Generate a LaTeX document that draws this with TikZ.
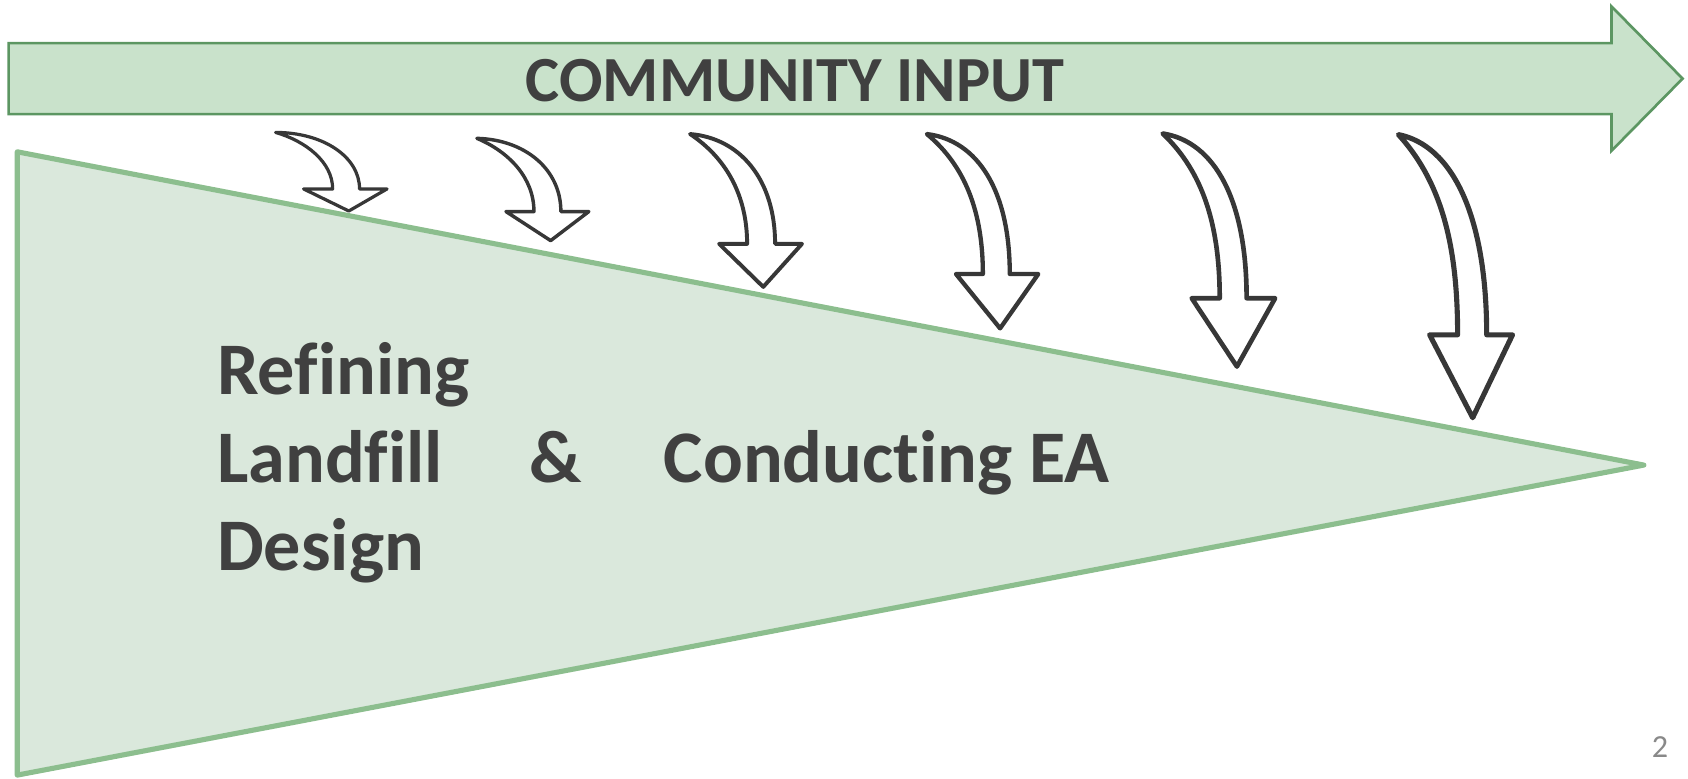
\documentclass[tikz,border=0pt]{standalone}
\usepackage{fontspec}
\setmainfont{Carlito}[Ligatures=NoCommon]
\definecolor{bandfill}{RGB}{201,226,203}
\definecolor{banddraw}{RGB}{92,150,98}
\definecolor{trifill}{RGB}{218,232,220}
\definecolor{tridraw}{RGB}{140,190,142}
\definecolor{txt}{RGB}{64,64,64}
\definecolor{pagenum}{RGB}{137,137,137}
\definecolor{arrowline}{RGB}{55,55,55}
\tikzset{
  carrow/.style={draw=arrowline, fill=white, line join=round, line cap=round},
  bigtext/.style={inner sep=0pt, text=txt, font=\fontsize{19.6}{23}\selectfont\bfseries},
  bandtext/.style={inner sep=0pt, text=txt, font=\fontsize{17}{20}\selectfont\bfseries}
}
\newcommand\carr[9]{%
  \pgfmathsetmacro\ff{(#5-#2-52.5)/133.5}%
  \pgfmathsetmacro\iax{#1+28+13*\ff}\pgfmathsetmacro\iay{#2+8+37*\ff}%
  \pgfmathsetmacro\iby{#5-25-56*\ff}%
  \pgfmathsetmacro\oax{#1+44+6*\ff}\pgfmathsetmacro\oay{#2+10*\ff}%
  \pgfmathsetmacro\oby{#5-30-81*\ff}%
  \pgfmathsetmacro\lw{0.85+0.5*\ff}%
  \draw[carrow, line width=\lw pt] (#1,#2) .. controls (\oax,\oay) and (#4,\oby) .. (#4,#5)
     -- (#7,#5) -- (#8,#9) -- (#6,#5) -- (#3,#5)
     .. controls (#3,\iby) and (\iax,\iay) .. (#1,#2) -- cycle;
}
\begin{document}
\begin{tikzpicture}[x=0.01cm,y=-0.01cm]
\useasboundingbox (0,0) rectangle (1568,723);
% big band arrow
\draw[fill=bandfill, draw=banddraw, line width=0.7pt, line join=miter]
  (8,40) -- (1497,40) -- (1497,6) -- (1563,73) -- (1497,140) -- (1497,106) -- (8,106) -- cycle;
\node[bandtext, anchor=base] (band) at (738.5,94) {COMMUNITY INPUT};
% funnel triangle
\draw[fill=trifill, draw=tridraw, line width=1.35pt, line join=round]
  (16,141) -- (1527,432) -- (16,720) -- cycle;
% curved arrows
\carr{256}{123}{309}{334}{175.5}{282}{359.5}{324}{196}
\carr{443}{128.5}{496}{521}{196.5}{470}{547}{511.5}{223.5}
\carr{641}{124.5}{694}{720}{226.5}{668}{745}{709}{266.5}
\carr{861}{124.5}{913}{938}{254.5}{888}{964.5}{929}{305}
\carr{1080}{124}{1133}{1158}{277}{1107}{1184.5}{1149}{340.5}
\carr{1299}{125}{1354}{1381}{311}{1328}{1405}{1368}{388}
% texts
\node[bigtext, anchor=base west] (t1) at (201,366) {Refining};
\node[bigtext, anchor=base west] (t2) at (201,448) {Landfill};
\node[bigtext, anchor=base west] (t3) at (201,530) {Design};
\node[bigtext, anchor=base west] (amp) at (491,448) {\&};
\node[bigtext, anchor=base west] (t4) at (616,448) {Conducting EA};
\node[inner sep=0pt, text=pagenum, font=\fontsize{8.5}{10}\selectfont, anchor=base] (pg) at (1542,704) {2};
\end{tikzpicture}
\end{document}
